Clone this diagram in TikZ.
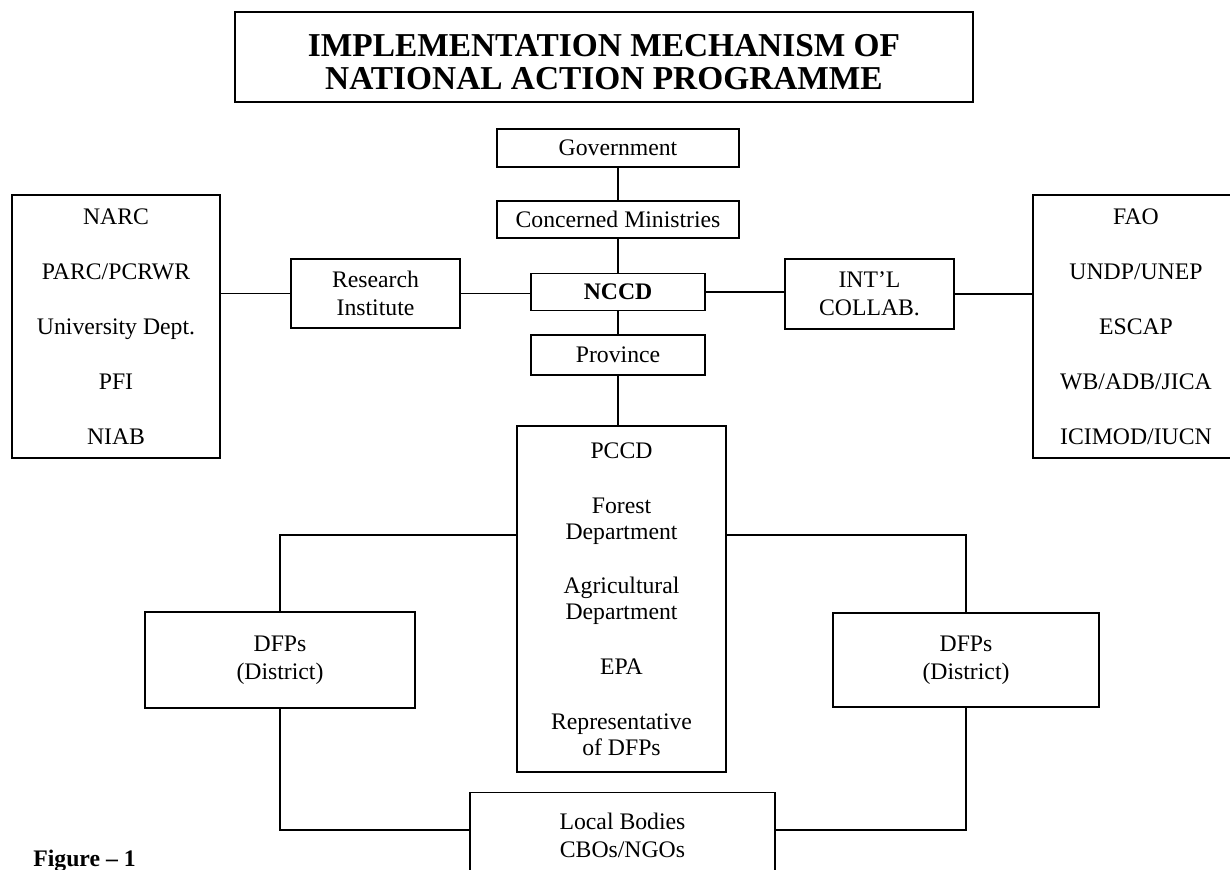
\documentclass[tikz,border=0pt]{standalone}
\usepackage{fontspec}
\setmainfont{Liberation Serif}
\usetikzlibrary{positioning, calc}
\tikzset{
  orgbox/.style={draw, line width=1.1pt, inner sep=0pt, align=center, fill=white,
                 font=\fontsize{13.5}{16}\selectfont},
  sz/.style 2 args={minimum width=#1*0.02cm, minimum height=#2*0.02cm},
  listfont/.style={font=\fontsize{13.5}{31.3}\selectfont},
  link/.style={line width=1.1pt}
}

\begin{document}
\begin{tikzpicture}[x=0.02cm, y=-0.02cm]
  \useasboundingbox (0,0) rectangle (1230,869);
  \clip (0,0) rectangle (1230,869);
  \fill[white] (0,0) rectangle (1230,869);

  \node[orgbox, sz={738}{90}, text height=37pt, text depth=0pt, font=\fontsize{19}{19}\selectfont\bfseries] (title) at (604,57)
       {IMPLEMENTATION MECHANISM OF\\NATIONAL ACTION PROGRAMME};

  \node[orgbox, sz={242}{38}] (gov) at (618,148) {Government};
  \node[orgbox, sz={242}{37}] (min) at (618,219.5) {Concerned Ministries};
  \node[orgbox, sz={174}{37}, font=\fontsize{13.5}{16}\selectfont\bfseries] (nccd) at (618,292) {NCCD};
  \node[orgbox, sz={174}{40}] (prov) at (618,355) {Province};

  \node[orgbox, sz={169}{69}] (research) at (375.5,293.5) {Research\\Institute};
  \node[orgbox, sz={169}{70}] (intl) at (869.5,294) {INT'L\\COLLAB.};

  \node[orgbox, sz={208}{263}, listfont] (narc) at (116,326.5)
       {NARC\\PARC/PCRWR\\University Dept.\\PFI\\NIAB};
  \node[orgbox, sz={206}{263}, listfont] (fao) at (1136,326.5)
       {FAO\\UNDP/UNEP\\ESCAP\\WB/ADB/JICA\\ICIMOD/IUCN};

  \node[orgbox, sz={209}{346}, font=\fontsize{13.5}{14.7}\selectfont] (pccd) at (621.5,599)
       {PCCD\\[16.5pt]Forest\\Department\\[16.5pt]Agricultural\\Department\\[16.5pt]EPA\\[16.5pt]Representative\\of DFPs};

  \node[orgbox, sz={270}{96}] (dfpL) at (280,660) {DFPs\\(District)};
  \node[orgbox, sz={266}{94}] (dfpR) at (966,660) {DFPs\\(District)};
  \node[orgbox, sz={305}{85}] (local) at (622.5,835) {Local Bodies\\CBOs/NGOs};

  \node[anchor=base west, inner sep=0pt, font=\fontsize{13.5}{16}\selectfont\bfseries] (figlabel)
       at (33,866) {Figure -- 1};

  \draw[link] (gov) -- (min);
  \draw[link] (min) -- (nccd);
  \draw[link] (nccd) -- (prov);
  \draw[link] (prov.south) -- (prov.south |- pccd.north);
  \draw[link] (research.west) -- (research.west -| narc.east);
  \draw[link] (research.east) -- (research.east -| nccd.west);
  \draw[link] (nccd.east) -- (nccd.east -| intl.west);
  \draw[link] (intl.east) -- (intl.east -| fao.west);
  \draw[link] (pccd.west |- 0,535) -| (dfpL.north);
  \draw[link] (pccd.east |- 0,535) -| (dfpR.north);
  \draw[link] (dfpL.south) |- (local.west |- 0,830);
  \draw[link] (dfpR.south) |- (local.east |- 0,830);
\end{tikzpicture}
\end{document}
